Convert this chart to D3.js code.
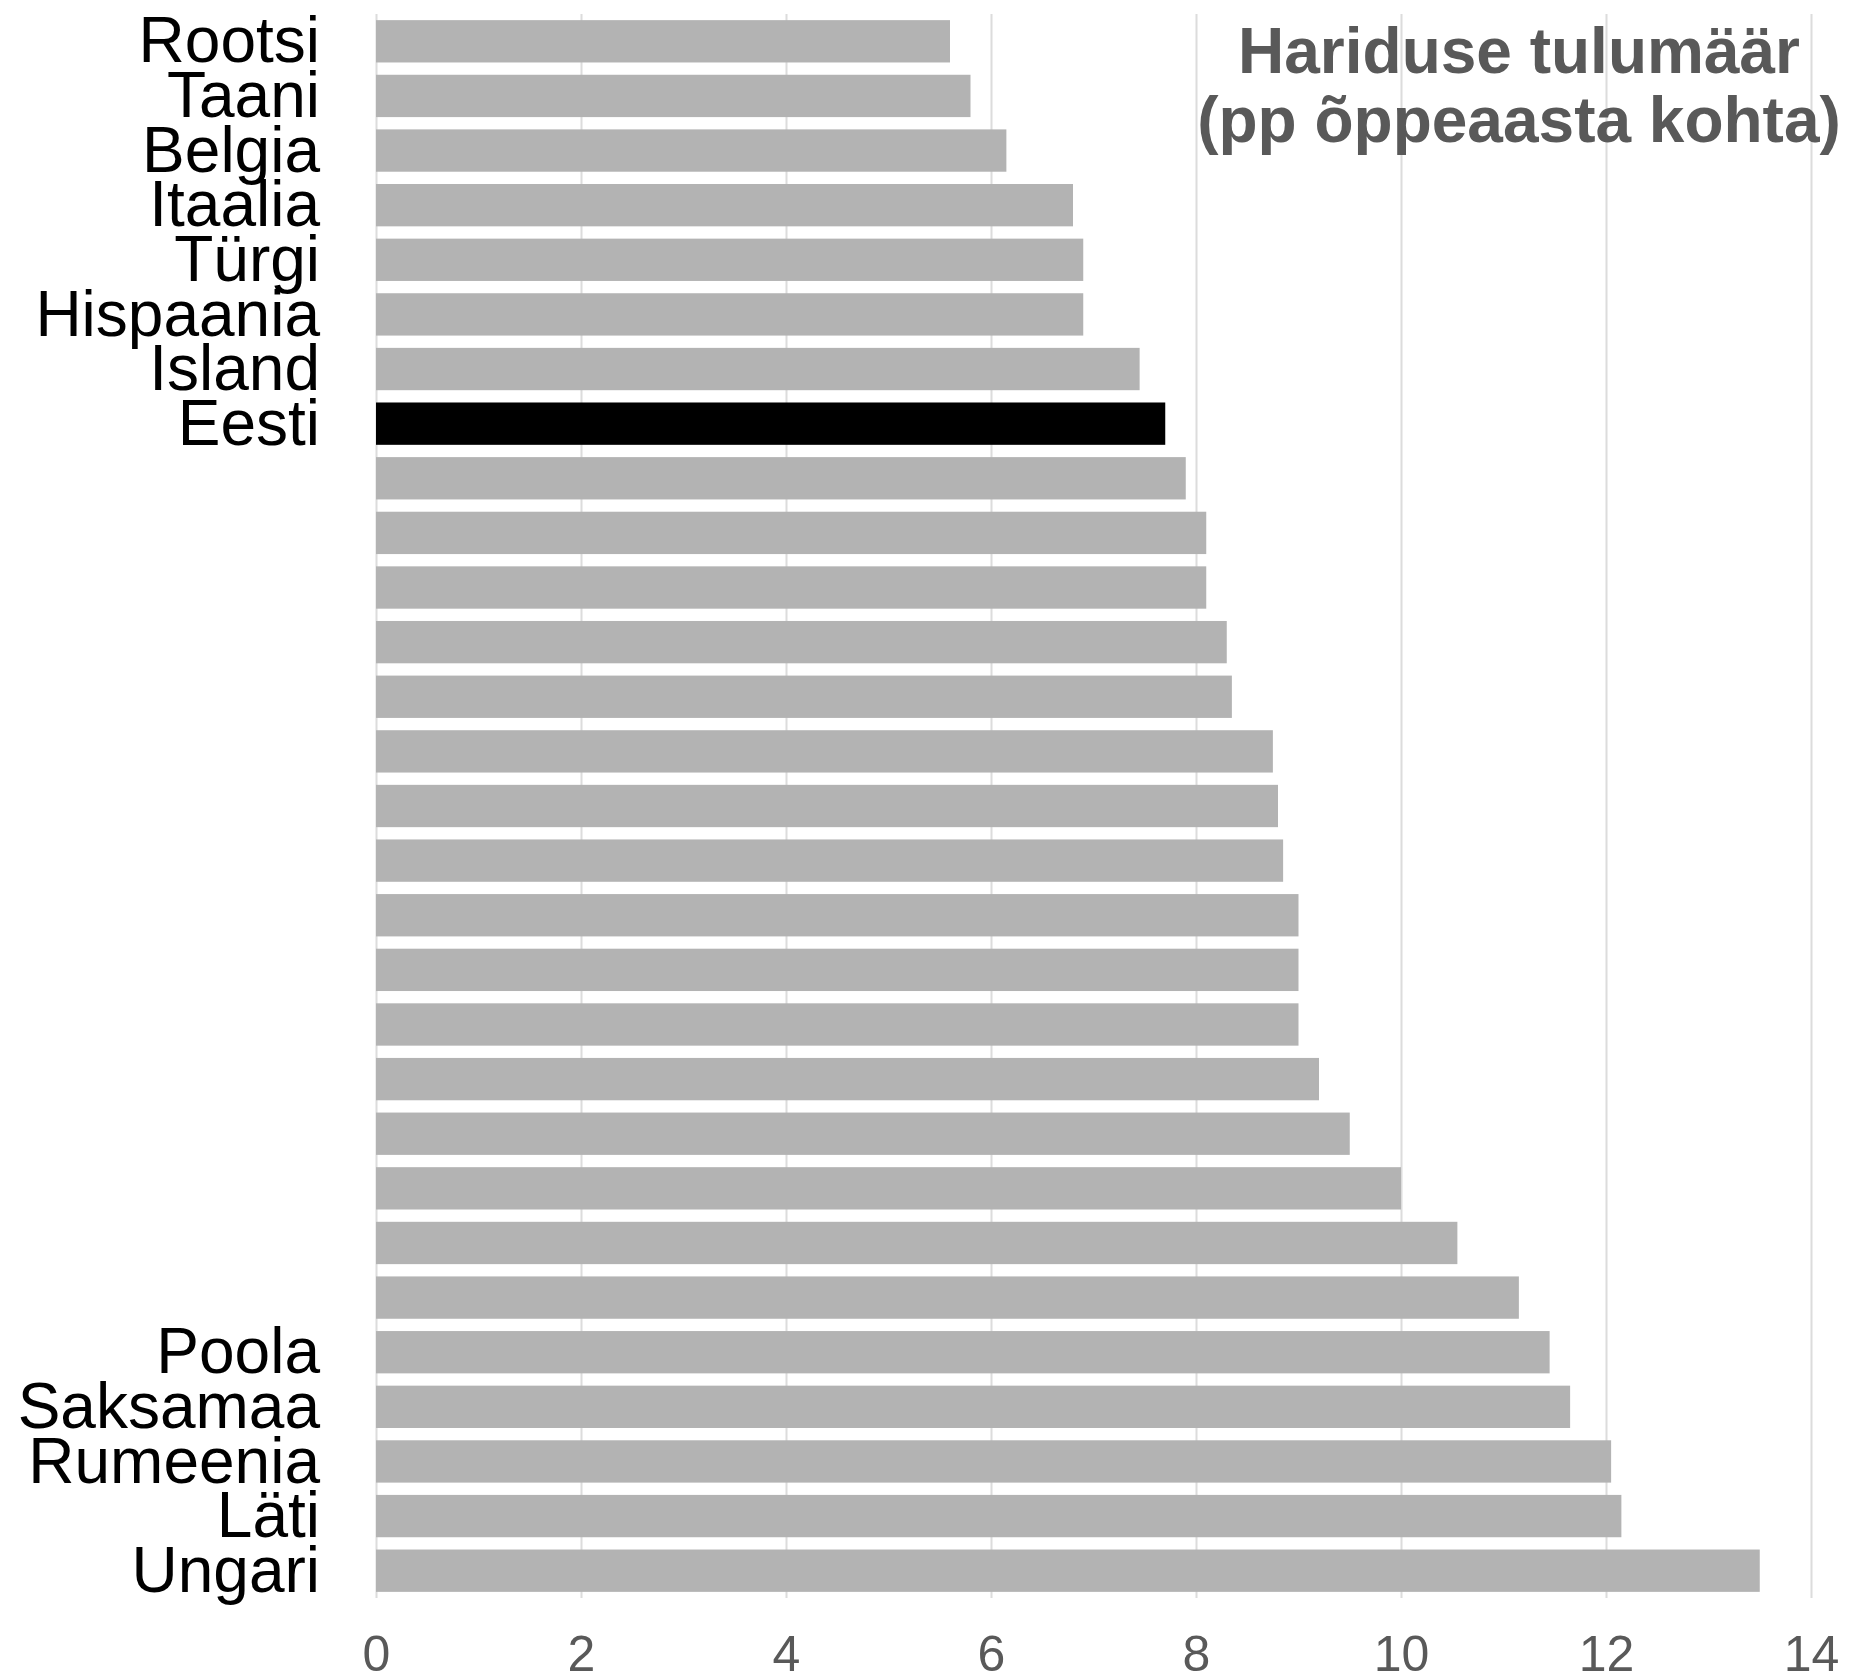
<!DOCTYPE html>
<html>
<head>
<meta charset="utf-8">
<script src="https://cdn.jsdelivr.net/npm/d3@7"></script>
<style>
  html, body { margin: 0; padding: 0; background: #ffffff; }
  svg { display: block; }
</style>
</head>
<body>
<svg id="chart" width="1850" height="1680"></svg>
<script>
// Country labels (empty for unlabeled bars), top to bottom
const labels = ["Rootsi", "Taani", "Belgia", "Itaalia", "Türgi", "Hispaania", "Island", "Eesti",
  "", "", "", "", "", "", "", "", "", "", "", "", "", "", "", "",
  "Poola", "Saksamaa", "Rumeenia", "Läti", "Ungari"];
// Returns to education (pp per school year)
const values = [5.6, 5.8, 6.15, 6.8, 6.9, 6.9, 7.45, 7.7,
  7.9, 8.1, 8.1, 8.3, 8.35, 8.75, 8.8, 8.85, 9.0, 9.0, 9.0, 9.2, 9.5, 10.0, 10.55, 11.15,
  11.45, 11.65, 12.05, 12.15, 13.5];
const highlight = "Eesti";
const xTicks = [0, 2, 4, 6, 8, 10, 12, 14];
const titleLines = ["Hariduse tulumäär", "(pp õppeaasta kohta)"];

const svg = d3.select("#chart");
const font = "'Liberation Sans', Arial, Helvetica, sans-serif";

const x = d3.scaleLinear().domain([0, 14]).range([376, 1811]);
const y = d3.scaleBand()
  .domain(d3.range(values.length))
  .range([14, 1598])
  .paddingInner(0.225)
  .paddingOuter(0.1125);

// Gridlines + tick labels
const axis = svg.append("g")
  .attr("transform", "translate(0,1598)")
  .call(d3.axisBottom(x).tickValues(xTicks).tickSize(-1584).tickFormat(d3.format("d")));
axis.select(".domain").remove();
axis.selectAll(".tick line")
  .attr("stroke", "#dcdcdc")
  .attr("stroke-width", 2);
axis.selectAll(".tick text")
  .attr("y", 73)
  .attr("dy", 0)
  .attr("fill", "#595959")
  .style("font-family", font)
  .style("font-size", "50px");

// Bars
svg.append("g").selectAll("rect")
  .data(values)
  .join("rect")
  .attr("x", x(0))
  .attr("y", (d, i) => y(i))
  .attr("width", d => x(d) - x(0))
  .attr("height", y.bandwidth())
  .attr("fill", (d, i) => labels[i] === highlight ? "#000000" : "#b3b3b3");

// Category labels
svg.append("g").selectAll("text")
  .data(labels)
  .join("text")
  .attr("x", 320)
  .attr("y", (d, i) => y(i) + y.bandwidth())
  .attr("text-anchor", "end")
  .attr("fill", "#000000")
  .style("font-family", font)
  .style("font-size", "64px")
  .text(d => d);

// Title
svg.append("g").selectAll("text")
  .data(titleLines)
  .join("text")
  .attr("x", 1519)
  .attr("y", (d, i) => 73 + i * 69)
  .attr("text-anchor", "middle")
  .attr("fill", "#595959")
  .style("font-family", font)
  .style("font-weight", "bold")
  .style("font-size", "64px")
  .text(d => d);
</script>
</body>
</html>
